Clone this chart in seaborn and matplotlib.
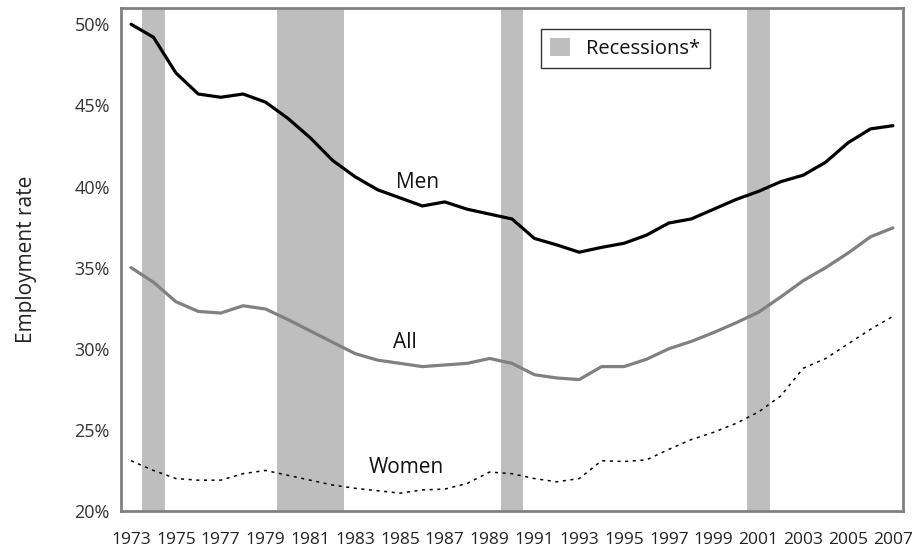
import matplotlib
matplotlib.use("Agg")
import matplotlib.pyplot as plt
import matplotlib.patches as mpatches
import seaborn as sns
import pandas as pd

# Data (percent)
years = list(range(1973, 2008))
men = [50.0, 49.2, 47.0, 45.7, 45.5, 45.7, 45.2, 44.2, 43.0, 41.6,
       40.6, 39.8, 39.3, 38.8, 39.05, 38.6, 38.3, 38.0, 36.8, 36.4,
       35.95, 36.25, 36.5, 37.0, 37.75, 38.0, 38.6, 39.2, 39.7, 40.3,
       40.7, 41.5, 42.7, 43.55, 43.75]
all_ = [35.0, 34.1, 32.9, 32.3, 32.2, 32.65, 32.45, 31.8, 31.1, 30.4,
        29.7, 29.3, 29.1, 28.9, 29.0, 29.1, 29.4, 29.1, 28.4, 28.2,
        28.1, 28.9, 28.9, 29.35, 30.0, 30.45, 31.0, 31.6, 32.25, 33.2,
        34.2, 35.0, 35.9, 36.9, 37.45]
women = [23.1, 22.5, 22.0, 21.9, 21.9, 22.3, 22.5, 22.2, 21.9, 21.6,
         21.4, 21.25, 21.1, 21.3, 21.35, 21.7, 22.4, 22.3, 22.0, 21.8,
         22.0, 23.1, 23.05, 23.15, 23.8, 24.4, 24.85, 25.4, 26.1, 27.1,
         28.8, 29.4, 30.3, 31.2, 32.0]
recession_start = [1973.5, 1979.5, 1989.5, 2000.5]
recession_end = [1974.5, 1982.5, 1990.5, 2001.5]
x_ticks = list(range(1973, 2008, 2))
y_ticks = [20, 25, 30, 35, 40, 45, 50]

df = pd.DataFrame({"year": years, "Men": men, "All": all_, "Women": women})

sns.set_style("white")
plt.rcParams["font.family"] = ["Open Sans", "DejaVu Sans"]

fig = plt.figure(figsize=(9.15, 5.46), dpi=100)
ax = fig.add_axes([0.1322, 0.0641, 0.8547, 0.9212])

# recession shading
for s, e in zip(recession_start, recession_end):
    ax.axvspan(s, e, color="#bebebe", lw=0, zorder=1)

sns.lineplot(data=df, x="year", y="Men", ax=ax, color="black", lw=2.3, zorder=3)
sns.lineplot(data=df, x="year", y="All", ax=ax, color="#808080", lw=2.3, zorder=3)
sns.lineplot(data=df, x="year", y="Women", ax=ax, color="black", lw=1.1,
             linestyle=(0, (2, 3)), zorder=3)

ax.text(1985.8, 40.25, "Men", fontsize=15, ha="center", va="center", color="#111111")
ax.text(1985.2, 30.4, "All", fontsize=15, ha="center", va="center", color="#111111")
ax.text(1985.3, 22.7, "Women", fontsize=15, ha="center", va="center", color="#111111")

ax.set_xlim(1972.55, 2007.45)
ax.set_ylim(20, 51)
ax.set_xticks(x_ticks)
ax.set_xticklabels([str(y) for y in x_ticks])
ax.set_yticks(y_ticks)
ax.set_yticklabels([f"{v}%" for v in y_ticks])
ax.tick_params(axis="x", length=0, pad=15, labelsize=12.5, labelcolor="#222222")
ax.tick_params(axis="y", length=0, pad=8, labelsize=13, labelcolor="#333333")
ax.set_xlabel("")
ax.set_ylabel("Employment rate", fontsize=15, color="#222222", labelpad=27)

for sp in ax.spines.values():
    sp.set_color("#808080")
    sp.set_linewidth(2)
    sp.set_visible(True)

handle = mpatches.Patch(facecolor="#bebebe", edgecolor="none", label="Recessions*")
leg = ax.legend(handles=[handle], loc="upper left",
                bbox_to_anchor=(541 / 915, 1 - 29 / 546), bbox_transform=fig.transFigure,
                fontsize=14.5, frameon=True, fancybox=False, borderaxespad=0,
                handlelength=1.0, handleheight=1.0, handletextpad=0.8,
                borderpad=0.45)
leg.get_frame().set_edgecolor("black")
leg.get_frame().set_linewidth(1)
for t in leg.get_texts():
    t.set_color("#111111")

fig.savefig("out.png", dpi=100)
